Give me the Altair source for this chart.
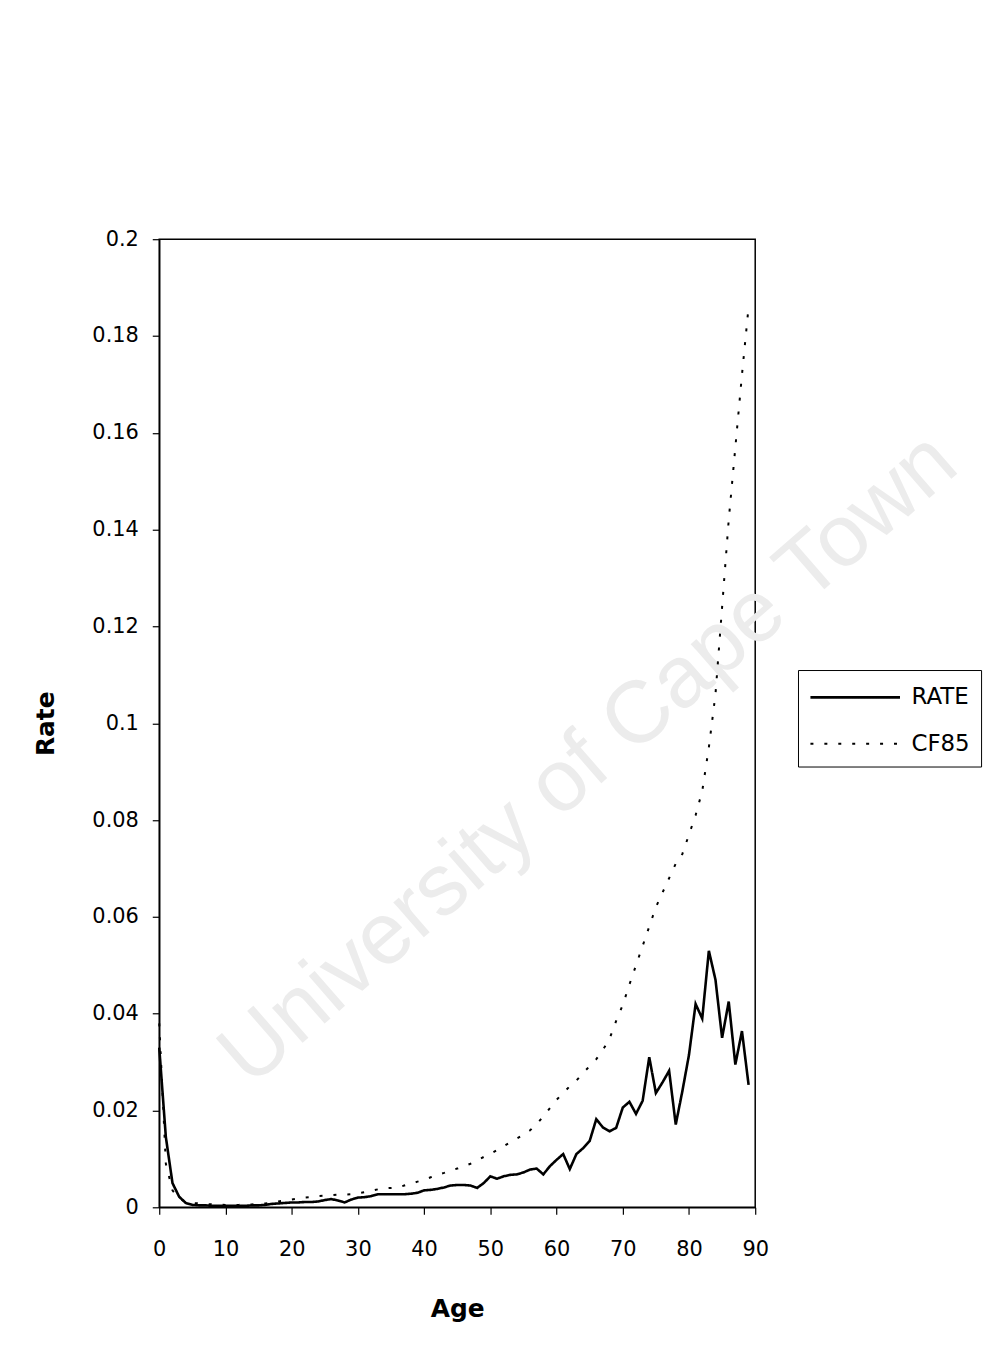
import altair as alt
import pandas as pd

ages = list(range(90))

rate = [
    0.033, 0.0145, 0.005, 0.0022, 0.0009, 0.0005, 0.0004, 0.0004, 0.0003, 0.0003,
    0.0003, 0.0003, 0.0003, 0.0003, 0.0004, 0.0004, 0.0005, 0.0007, 0.0008, 0.0009,
    0.001, 0.001, 0.0011, 0.0011, 0.0012, 0.0015, 0.0017, 0.0014, 0.001, 0.0016,
    0.002, 0.0021, 0.0023, 0.0027, 0.0027, 0.0027, 0.0027, 0.0027, 0.0028, 0.003,
    0.0035, 0.0036, 0.0038, 0.0041, 0.0045, 0.0046, 0.0046, 0.0045, 0.004, 0.005,
    0.0064, 0.0059, 0.0064, 0.0067, 0.0068, 0.0072, 0.0078, 0.008, 0.0068, 0.0085,
    0.0098, 0.011, 0.0079, 0.011, 0.0122, 0.0137, 0.0182, 0.0165, 0.0157, 0.0164,
    0.0206, 0.0218, 0.0193, 0.022, 0.031, 0.0236, 0.0258, 0.0282, 0.0171, 0.024,
    0.0315, 0.042, 0.039, 0.053, 0.047, 0.035, 0.0425, 0.0295, 0.0364, 0.0253,
]

cf85 = [
    0.038, 0.009, 0.0035, 0.0018, 0.0012, 0.0009, 0.0008, 0.0007, 0.0006, 0.0006,
    0.0005, 0.0005, 0.0005, 0.0006, 0.0006, 0.0007, 0.0008, 0.001, 0.0012, 0.0014,
    0.0016, 0.0018, 0.002, 0.0021, 0.0023, 0.0024, 0.0025, 0.0026, 0.0026, 0.0027,
    0.0029, 0.0031, 0.0034, 0.0037, 0.0039, 0.004, 0.0041, 0.0045, 0.0049, 0.0053,
    0.0057, 0.0062, 0.0067, 0.0071, 0.0076, 0.008, 0.0085, 0.009, 0.0097, 0.0104,
    0.011, 0.0118, 0.0126, 0.0134, 0.0142, 0.015, 0.0159, 0.0172, 0.0188, 0.0205,
    0.0222, 0.0236, 0.025, 0.0262, 0.0277, 0.0292, 0.0306, 0.0325, 0.0348, 0.0385,
    0.0418, 0.046, 0.050, 0.054, 0.058, 0.062, 0.065, 0.068, 0.071, 0.073,
    0.077, 0.081, 0.086, 0.095, 0.106, 0.124, 0.142, 0.157, 0.172, 0.186,
]

series_names = ["RATE", "CF85"]
x_ticks = [0, 10, 20, 30, 40, 50, 60, 70, 80, 90]
y_ticks = [0, 0.02, 0.04, 0.06, 0.08, 0.1, 0.12, 0.14, 0.16, 0.18, 0.2]

watermark_text = ["University of Cape Town"]
watermark_age = [64.9]
watermark_rate = [0.0925]

df = pd.DataFrame({
    "Age": ages + ages,
    "Rate": rate + cf85,
    "Series": [series_names[0]] * len(ages) + [series_names[1]] * len(ages),
})
wm = pd.DataFrame({"Age": watermark_age, "Rate": watermark_rate, "label": watermark_text})

FONT = "DejaVu Sans"

x_enc = alt.X(
    "Age:Q",
    scale=alt.Scale(domain=[0, 90], nice=False, zero=False),
    axis=alt.Axis(values=x_ticks, format="d", title="Age", labelFlush=False),
)
y_enc = alt.Y(
    "Rate:Q",
    scale=alt.Scale(domain=[0, 0.2], nice=False),
    axis=alt.Axis(values=y_ticks, format="~g", title="Rate"),
)

watermark = alt.Chart(wm).mark_text(
    angle=319, fontSize=88, font="Liberation Sans", color="#ececec",
    align="center", baseline="middle",
).encode(x=x_enc, y=y_enc, text="label:N")

lines = alt.Chart(df).mark_line(color="black", strokeCap="butt").encode(
    x=x_enc,
    y=y_enc,
    strokeDash=alt.StrokeDash(
        "Series:N",
        scale=alt.Scale(domain=series_names, range=[[1, 0], [3, 11]]),
        legend=alt.Legend(title=None),
    ),
    strokeWidth=alt.StrokeWidth(
        "Series:N",
        scale=alt.Scale(domain=series_names, range=[2.6, 2.0]),
        legend=None,
    ),
    order="Age:Q",
)

chart = alt.layer(watermark, lines).properties(
    width=599,
    height=973,
    padding={"left": 152, "top": 229, "right": 240, "bottom": 130},
    autosize=alt.AutoSizeParams(type="none"),
    background="white",
).configure_view(
    stroke="black", strokeWidth=1.5,
).configure_axis(
    grid=False,
    domainColor="black",
    domainWidth=1.5,
    tickColor="black",
    tickWidth=1.2,
    tickSize=7,
    labelFont=FONT,
    labelFontSize=21,
    labelColor="black",
    titleFont=FONT,
    titleFontSize=25,
    titleFontWeight="bold",
    titleColor="black",
).configure_axisX(
    labelPadding=24,
    titlePadding=38,
).configure_axisY(
    labelPadding=14,
    titlePadding=34,
).configure_legend(
    orient="none",
    legendX=642,
    legendY=433,
    strokeColor="black",
    fillColor="white",
    padding=11,
    symbolType="M-1,0H5",
    symbolSize=900,
    symbolStrokeColor="black",
    symbolStrokeWidth=2.5,
    symbolFillColor="transparent",
    labelOffset=70,
    rowPadding=18,
    labelFont=FONT,
    labelFontSize=23,
    labelColor="black",
)

chart.save("out.html", embed_options={"renderer": "svg", "actions": False})
